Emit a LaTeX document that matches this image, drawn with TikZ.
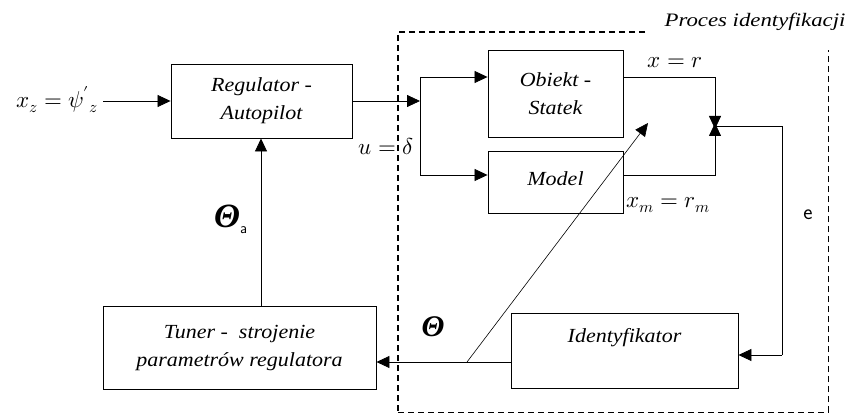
\documentclass[tikz,border=0pt]{standalone}
\usepackage{fontspec}
\usepackage{unicode-math}
\setmainfont{Liberation Serif}
\setmathfont{Latin Modern Math}
\newfontfamily\boxfont[FakeStretch=1.1]{Liberation Serif}
\newfontfamily\titlefont[FakeStretch=1.2]{Liberation Serif}
\usetikzlibrary{arrows.meta}
\begin{document}
\begin{tikzpicture}[x=1pt,y=-1pt,
  box/.style={draw,line width=0.9pt,inner sep=0pt,align=center,font=\boxfont\itshape\fontsize{20}{28}\selectfont},
  conn/.style={line width=0.8pt},
  arr/.style={conn,-{Triangle[length=13pt,width=12pt]}},
  lbl/.style={font=\fontsize{23}{26}\selectfont,inner sep=0pt},
  frame/.style={dashed,dash pattern=on 6pt off 4pt}]
\useasboundingbox (0,0) rectangle (851,414);
% blocks
\node[box,minimum width=181pt,minimum height=74pt] (reg) at (261.5,101) {Regulator -\\Autopilot};
\node[box,minimum width=135pt,minimum height=87pt] (obj) at (555.5,93.5) {Obiekt -\\Statek};
\node[box,minimum width=135pt,minimum height=62pt] (model) at (555.5,182) {\raisebox{7pt}{Model}};
\node[box,minimum width=227pt,minimum height=75pt,label={[font=\boxfont\itshape\fontsize{20}{22}\selectfont,yshift=13pt]center:Identyfikator}] (ident) at (624.5,350.5) {};
\node[box,minimum width=273pt,minimum height=83pt] (tuner) at (239.5,348) {Tuner -\ \ strojenie\\parametrów regulatora};
% coordinates
\coordinate (xin) at (103,101);
\coordinate (split) at (420,101);
\coordinate (up) at (420,77);
\coordinate (down) at (420,175);
\coordinate (sum) at (715,126);
\coordinate (ecorner) at (782,126);
\coordinate (ebottom) at (782,355);
\coordinate (dstart) at (467,362);
\coordinate (dend) at (648,123);
% connectors
\draw[arr] (xin) -- (reg.west);
\draw[arr] (reg.east) -- (split);
\draw[conn] (up) -- (down);
\draw[arr] (up) -- (obj.west |- up);
\draw[arr] (down) -- (model.west |- down);
\draw[arr] (obj.east |- up) -| ([yshift=-3pt]sum);
\draw[arr] (model.east |- down) -| ([yshift=3pt]sum);
\draw[conn] (sum) -- (ecorner) -- (ebottom);
\draw[arr] (ebottom) -- (ident.east |- ebottom);
\draw[arr] (ident.west |- dstart) -- (tuner.east |- dstart);
\draw[arr,line width=0.6pt] (dstart) -- (dend);
\draw[arr] (tuner.north -| 261,0) -- (reg.south -| 261,0);
% dashed frame
\draw[frame,line width=1.6pt] (645,32) -- (398,32) -- (398,412);
\draw[frame,line width=0.9pt] (398,412) -- (828,412) -- (828,50);
\node[font=\titlefont\itshape\fontsize{19}{21}\selectfont,inner sep=0pt] (ptitle) at (755,22) {Proces identyfikacji};
% labels
\node[lbl,anchor=east] (lin) at (98,100) {$x_z = \psi'{}_z$};
\node[lbl] (lu) at (386,146) {$u = \delta$};
\node[lbl] (lx) at (675,63) {$x = r$};
\node[lbl] (lxm) at (668,205) {$x_m = r_m$};
\node[font=\sffamily\fontsize{22}{24}\selectfont,inner sep=0pt] (le) at (808,215) {e};
\node[font=\fontsize{30}{32}\selectfont,inner sep=0pt] (ltheta) at (433,327) {\textbf{\textit{Θ}}};
\node[font=\fontsize{34}{36}\selectfont,inner sep=0pt,anchor=base west] (ltha) at (214,227) {\textbf{\textit{Θ}}\raisebox{-6pt}{\sffamily\fontsize{15}{17}\selectfont a}};
\end{tikzpicture}
\end{document}
